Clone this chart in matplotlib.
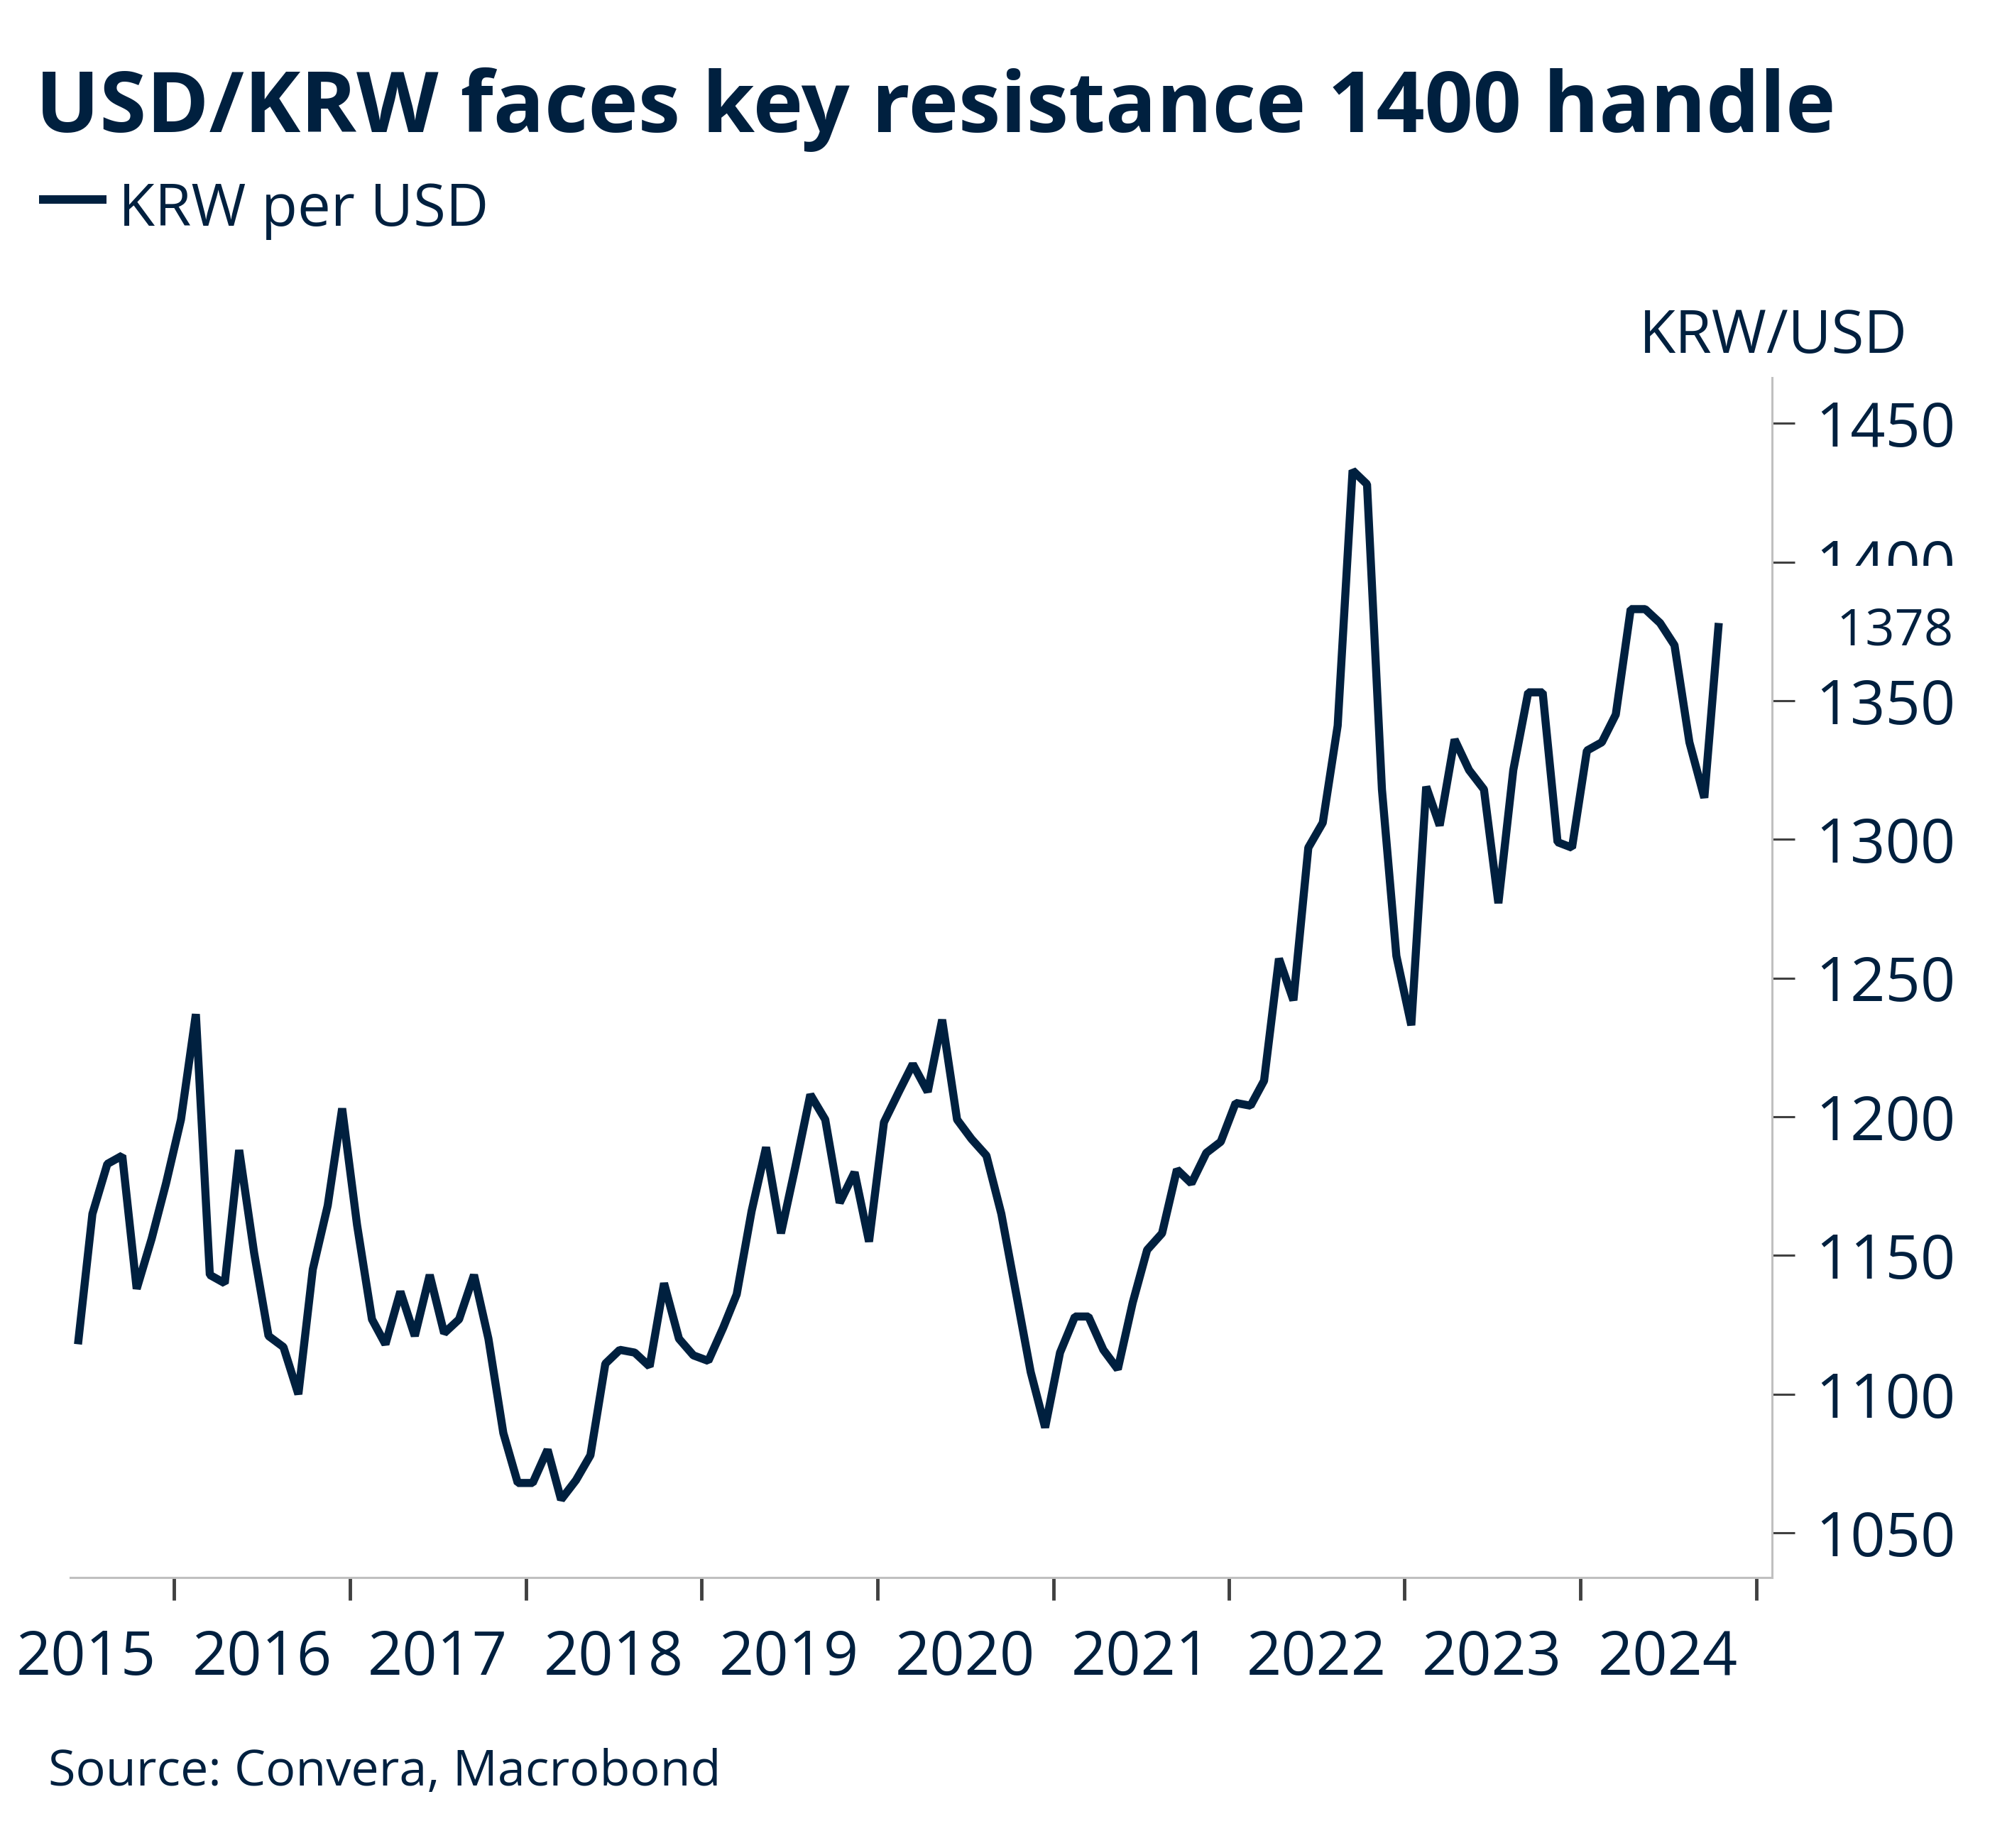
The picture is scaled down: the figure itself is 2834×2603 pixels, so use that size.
import matplotlib
matplotlib.use("Agg")
import matplotlib.pyplot as plt
import matplotlib.dates as mdates
import matplotlib.transforms as mtransforms
from matplotlib.ticker import FixedLocator, NullFormatter, FixedFormatter
from matplotlib.patches import Rectangle
from matplotlib.lines import Line2D
import pandas as pd

# ---------------- data ----------------
start_month = "2015-06"
krw_per_usd = [
    1118, 1165, 1183, 1186, 1138, 1156, 1176,             # 2015 Jun-Dec
    1199, 1237, 1143, 1140, 1188, 1151, 1121, 1117, 1100, 1145, 1168, 1203,   # 2016
    1161, 1127, 1118, 1137, 1121, 1143, 1122, 1127, 1143, 1120, 1086, 1068,   # 2017
    1068, 1080, 1062, 1069, 1078, 1111, 1116, 1115, 1110, 1140, 1120, 1114,   # 2018
    1112, 1124, 1136, 1166, 1189, 1158, 1182, 1208, 1199, 1169, 1180, 1155,   # 2019
    1198, 1209, 1219, 1209, 1235, 1199, 1192, 1186, 1165, 1137, 1108, 1088,   # 2020
    1115, 1128, 1128, 1116, 1109, 1133, 1152, 1158, 1181, 1176, 1187, 1191,   # 2021
    1205, 1204, 1213, 1257, 1242, 1297, 1306, 1341, 1433, 1428, 1318, 1258,   # 2022
    1233, 1319, 1305, 1336, 1325, 1318, 1277, 1325, 1353, 1353, 1299, 1297,   # 2023
    1332, 1335, 1345, 1383, 1383, 1378, 1370, 1335, 1315, 1378,               # 2024 Jan-Oct
]
year_tick_years = list(range(2016, 2026))
year_labels = [str(y) for y in range(2015, 2025)]
y_ticks = [1050, 1100, 1150, 1200, 1250, 1300, 1350, 1400, 1450]
last_value_label = "1378"
title = "USD/KRW faces key resistance 1400 handle"
legend_label = "KRW per USD"
unit_label = "KRW/USD"
source = "Source: Convera, Macrobond"

# ---------------- style ----------------
W, H, DPI = 2834, 2603, 100
NAVY = "#00203f"
SPINE = "#c0c0c0"
TICK = "#404040"
plt.rcParams["font.family"] = ["Open Sans", "DejaVu Sans"]

fig = plt.figure(figsize=(W / DPI, H / DPI), dpi=DPI)
fig.patch.set_facecolor("white")


def fx(x):
    return x / W


def fy(y):
    return (H - y) / H


ax = fig.add_axes([fx(99), fy(2221.7), fx(2495.5) - fx(99), fy(531.7) - fy(2221.7)])

dates = (pd.period_range(start_month, periods=len(krw_per_usd), freq="M")
         .to_timestamp() + pd.Timedelta(days=14))
ax.plot(dates, krw_per_usd, color=NAVY, lw=8.2,
        solid_joinstyle="bevel", solid_capstyle="butt", zorder=3)

ax.set_xlim(pd.Timestamp("2015-05-30"), pd.Timestamp("2025-02-02"))
ax.set_ylim(1034, 1466.5)

for s in ["left", "top"]:
    ax.spines[s].set_visible(False)
for s in ["right", "bottom"]:
    ax.spines[s].set_color(SPINE)
    ax.spines[s].set_linewidth(2.2)

# y axis on right
ax.yaxis.tick_right()
ax.set_yticks(y_ticks)
ax.set_yticklabels([str(v) for v in y_ticks])
ax.tick_params(axis="y", which="major", direction="out", length=22.8, width=2.2,
               color=TICK, labelsize=62, labelcolor=NAVY, pad=22)

# x axis: ticks at year starts, labels mid-year
major_pos = mdates.date2num([pd.Timestamp(f"{y}-01-01") for y in year_tick_years])
minor_pos = mdates.date2num([pd.Timestamp(f"{y}-07-02") for y in year_labels])
ax.xaxis.set_major_locator(FixedLocator(major_pos))
ax.xaxis.set_major_formatter(NullFormatter())
ax.xaxis.set_minor_locator(FixedLocator(minor_pos))
ax.xaxis.set_minor_formatter(FixedFormatter(year_labels))
ax.tick_params(axis="x", which="major", direction="out", length=22.8, width=3.5, color=TICK)
ax.tick_params(axis="x", which="minor", length=0, labelsize=62, labelcolor=NAVY, pad=52)

# last value label with white background covering part of the axis labels
blend = mtransforms.blended_transform_factory(fig.transFigure, ax.transData)
cover = Rectangle((fx(2535), 1362), fx(2800) - fx(2535), 36.6, transform=blend,
                  facecolor="white", edgecolor="none", zorder=5)
fig.add_artist(cover)
lbl_tr = blend + mtransforms.ScaledTranslation(0, -30.7 / DPI, fig.dpi_scale_trans)
fig.text(fx(2752), krw_per_usd[-1], last_value_label, transform=lbl_tr,
         ha="right", va="baseline", fontsize=52, color=NAVY, zorder=6)

# texts
renderer = fig.canvas.get_renderer()


def fit(t, target_w):
    bb = t.get_window_extent(renderer)
    t.set_fontsize(t.get_fontsize() * target_w / bb.width)


t_title = fig.text(fx(50), fy(186), title, fontsize=80, fontweight="bold",
                   color=NAVY, ha="left", va="baseline")
fit(t_title, 2536)

fig.add_artist(Line2D([fx(55), fx(150)], [fy(281), fy(281)], color=NAVY, lw=8.6,
                      solid_capstyle="butt"))
t_leg = fig.text(fx(167), fy(318), legend_label, fontsize=60, color=NAVY,
                 ha="left", va="baseline")
fit(t_leg, 522)

t_unit = fig.text(fx(2498), fy(496.7), unit_label, fontsize=60, color=NAVY,
                  ha="center", va="baseline")
fit(t_unit, 378)

t_src = fig.text(fx(68), fy(2515), source, fontsize=54, color=NAVY,
                 ha="left", va="baseline")
fit(t_src, 948)

fig.savefig("out.png", dpi=DPI, facecolor="white")
